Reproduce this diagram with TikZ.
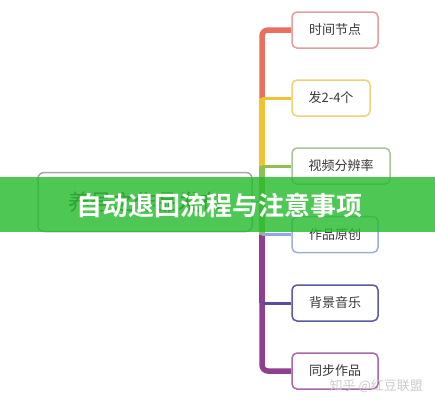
\documentclass[tikz,border=0pt]{standalone}
\usepackage{fontspec}
\usetikzlibrary{backgrounds}
\setmainfont{Noto Sans CJK SC}
\newfontfamily\cjkbold{Noto Sans CJK SC Bold}
\definecolor{cRed}{HTML}{E8705F}
\definecolor{cYel}{HTML}{F2C230}
\definecolor{cGrn}{HTML}{8CC152}
\definecolor{cBlu}{HTML}{90A8E0}
\definecolor{cInd}{HTML}{5B4B9B}
\definecolor{cPur}{HTML}{8E3F8E}
\definecolor{bRed}{HTML}{E0A0A0}
\definecolor{bYel}{HTML}{EED27A}
\definecolor{bGrn}{HTML}{A8C498}
\definecolor{bBlu}{HTML}{9AB0D8}
\definecolor{bInd}{HTML}{5A5AA0}
\definecolor{bPur}{HTML}{A868A8}
\definecolor{txt}{HTML}{383838}
\definecolor{banner}{HTML}{24BA2A}
\begin{document}
\begin{tikzpicture}[x=1pt,y=-1pt,
  leaf/.style={draw=#1, line width=1.5pt, rounded corners=5pt, fill=white,
    minimum height=36pt, text=txt, font=\fontsize{13}{13}\selectfont, inner sep=0pt},
  trunk/.style={line width=5.5pt, draw=#1, rounded corners=6pt},
  branch/.style={line width=3pt, draw=#1}]
\useasboundingbox (0,0) rectangle (435,410);
% nodes
\node[leaf=bRed, minimum width=86pt] (b1) at (335,30) {时间节点};
\node[leaf=bYel, minimum width=78pt] (b2) at (331,98) {发2-4个};
\node[leaf=bGrn, minimum width=98pt] (b3) at (341,166) {视频分辨率};
\node[leaf=bBlu, minimum width=86pt] (b4) at (335,234.5) {作品原创};
\node[leaf=bInd, minimum width=86pt] (b5) at (335,303) {背景音乐};
\node[leaf=bPur, minimum width=86pt] (b6) at (335,371) {同步作品};
\node[draw=gray!70, line width=1.5pt, rounded corners=6pt, fill=white,
  minimum width=214pt, minimum height=59pt, text=txt!90,
  font=\fontsize{22}{22}\selectfont] (root) at (145,202) {养号之作品发布};
% trunk coordinates
\coordinate (t1) at (262,30);
\coordinate (t2) at (262,98);
\coordinate (t3) at (262,166);
\coordinate (t4) at (262,234.5);
\coordinate (t5) at (262,303);
\coordinate (t6) at (262,371);
\begin{scope}[on background layer]
\fill[white] (0,0) rectangle (435,410);
\draw[trunk=cRed] (b1.west) -- (t1) -- (t2);
\draw[trunk=cYel, rounded corners=0pt] (t2) -- (t3);
\draw[trunk=cGrn, rounded corners=0pt] (t3) -- (t4);
\draw[trunk=cPur, rounded corners=0pt] (t4) -- (t5);
\draw[trunk=cPur] (t5) -- (t6) -- (b6.west);
\draw[branch=cYel] (t2) -- (b2.west);
\draw[branch=cGrn] (t3) -- (b3.west);
\draw[branch=cBlu] (t4) -- (b4.west);
\draw[branch=cInd] (t5) -- (b5.west);
\draw[branch=gray!60, line width=2pt] (root.east) -- (root.east -| t3);
\end{scope}
% banner
\fill[banner, fill opacity=0.8] (0,177) rectangle (435,232);
\node[text=white, font=\cjkbold\fontsize{26}{26}\selectfont, inner sep=0pt] (title) at (219,205) {自动退回流程与注意事项};
% watermark
\node[text=gray!40, font=\fontsize{13}{13}\selectfont, inner sep=0pt, anchor=east] (wm) at (423,386) {知乎 @红豆联盟};
\end{tikzpicture}
\end{document}
